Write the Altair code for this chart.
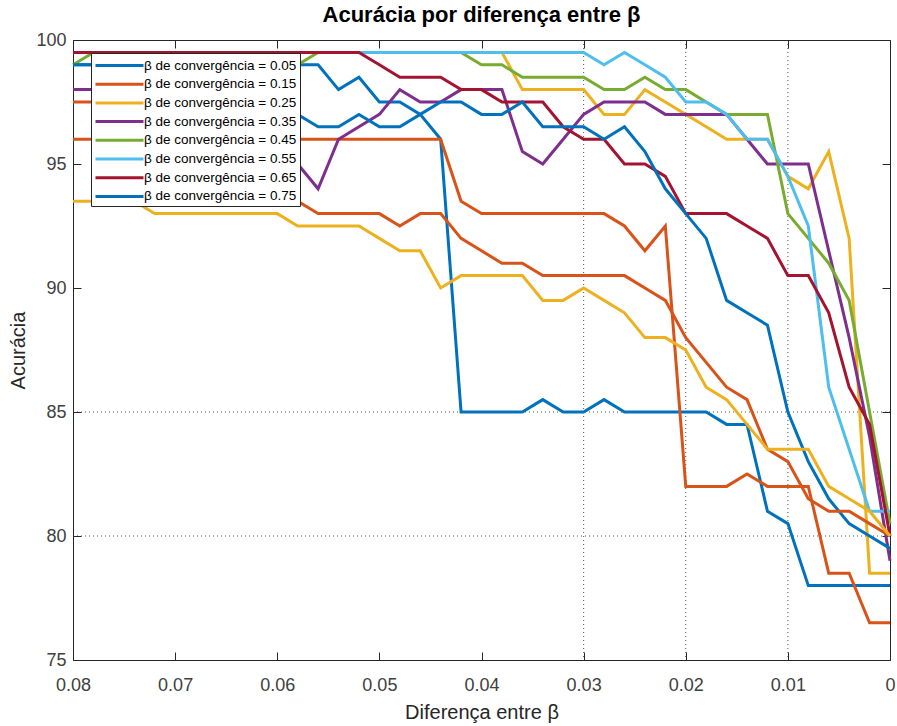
import altair as alt
import pandas as pd

# x positions (Diferença entre beta)
x_vals = [0.080, 0.078, 0.076, 0.074, 0.072, 0.070, 0.068, 0.066, 0.064, 0.062,
          0.060, 0.058, 0.056, 0.054, 0.052, 0.050, 0.048, 0.046, 0.044, 0.042,
          0.040, 0.038, 0.036, 0.034, 0.032, 0.030, 0.028, 0.026, 0.024, 0.022,
          0.020, 0.018, 0.016, 0.014, 0.012, 0.010, 0.008, 0.006, 0.004, 0.002,
          0.000]

names = ["β de convergência = 0.05", "β de convergência = 0.15",
         "β de convergência = 0.25", "β de convergência = 0.35",
         "β de convergência = 0.45", "β de convergência = 0.55",
         "β de convergência = 0.65", "β de convergência = 0.75",
         "β de convergência = 0.85", "β de convergência = 0.95"]

colors = ["#0072BD", "#D95319", "#EDB120", "#7E2F8E", "#77AC30",
          "#4DBEEE", "#A2142F", "#0072BD", "#D95319", "#EDB120"]

s005 = [99, 99, 99, 99, 99, 99, 99, 99, 99, 99, 99, 99, 99, 98, 98.5, 97.5, 97.5, 97, 96,
        85, 85, 85, 85, 85.5, 85, 85, 85.5, 85, 85, 85, 85, 85, 84.5, 84.5, 81, 80.5,
        78, 78, 78, 78, 78]
s015 = [96, 96, 96, 96, 96, 96, 96, 96, 96, 96, 96, 96, 96, 96, 96, 96, 96, 96, 96,
        93.5, 93, 93, 93, 93, 93, 93, 93, 92.5, 91.5, 92.5, 82, 82, 82, 82.5, 82, 82,
        82, 78.5, 78.5, 76.5, 76.5]
s025 = [99.5, 99.5, 99.5, 99.5, 99.5, 99.5, 99.5, 99.5, 99.5, 99.5, 99.5, 99.5, 99.5,
        99.5, 99.5, 99.5, 99.5, 99.5, 99.5, 99.5, 99.5, 99.5, 98, 98, 98, 98, 97, 97,
        98, 97.5, 97, 96.5, 96, 96, 96, 94.5, 94, 95.5, 92, 78.5, 78.5]
s035 = [98, 98, 98, 98, 98, 97.5, 97.5, 97, 96.5, 96, 95.5, 95, 94, 96, 96.5, 97, 98,
        97.5, 97.5, 98, 98, 98, 95.5, 95, 96, 97, 97.5, 97.5, 97.5, 97, 97, 97, 97,
        96, 95, 95, 95, 91.5, 88, 84, 79]
s045 = [99, 99.5, 99.5, 99.5, 99.5, 99.5, 99.5, 99.5, 99.5, 99.5, 99.5, 99, 99.5, 99.5,
        99.5, 99.5, 99.5, 99.5, 99.5, 99.5, 99, 99, 98.5, 98.5, 98.5, 98.5, 98, 98,
        98.5, 98, 98, 97.5, 97, 97, 97, 93, 92, 91, 89.5, 85, 80.5]
s055 = [99.5, 99.5, 99.5, 99.5, 99.5, 99.5, 99.5, 99.5, 99.5, 99.5, 99.5, 99.5, 99.5,
        99.5, 99.5, 99.5, 99.5, 99.5, 99.5, 99.5, 99.5, 99.5, 99.5, 99.5, 99.5, 99.5,
        99, 99.5, 99, 98.5, 97.5, 97.5, 97, 96, 96, 94.5, 92.5, 86, 83.5, 81, 81]
s065 = [99.5, 99.5, 99.5, 99.5, 99.5, 99.5, 99.5, 99.5, 99.5, 99.5, 99.5, 99.5, 99.5,
        99.5, 99.5, 99, 98.5, 98.5, 98.5, 98, 98, 97.5, 97.5, 97.5, 96.5, 96, 96, 95,
        95, 94.5, 93, 93, 93, 92.5, 92, 90.5, 90.5, 89, 86, 84.5, 80]
s075 = [99, 99, 99, 98.5, 98.5, 98, 98, 97.5, 97.5, 97.5, 97, 97, 96.5, 96.5, 97, 96.5,
        96.5, 97, 97.5, 97.5, 97, 97, 97.5, 96.5, 96.5, 96.5, 96, 96.5, 95.5, 94, 93,
        92, 89.5, 89, 88.5, 85, 83, 81.5, 80.5, 80, 79.5]
s085 = [97.5, 97.5, 97, 97, 96.5, 96, 95.5, 95, 94.5, 94, 93.5, 93.5, 93, 93, 93, 93,
        92.5, 93, 93, 92, 91.5, 91, 91, 90.5, 90.5, 90.5, 90.5, 90.5, 90, 89.5, 88, 87,
        86, 85.5, 83.5, 83, 81.5, 81, 81, 80.5, 80]
s095 = [93.5, 93.5, 93.5, 93.5, 93, 93, 93, 93, 93, 93, 93, 92.5, 92.5, 92.5, 92.5, 92,
        91.5, 91.5, 90, 90.5, 90.5, 90.5, 90.5, 89.5, 89.5, 90, 89.5, 89, 88, 88, 87.5,
        86, 85.5, 84.5, 83.5, 83.5, 83.5, 82, 81.5, 81, 80]

series = [s005, s015, s025, s035, s045, s055, s065, s075, s085, s095]

x_ticks = [0.0, 0.01, 0.02, 0.03, 0.04, 0.05, 0.06, 0.07, 0.08]
y_ticks = [75, 80, 85, 90, 95, 100]
grid_x = [0.01, 0.02, 0.03]
grid_y = [80, 85]

rows = []
for name, vals in zip(names, series):
    for xv, yv in zip(x_vals, vals):
        rows.append({"x": xv, "y": yv, "series": name})
df = pd.DataFrame(rows)

FONT = "Liberation Sans"
INK = "#262626"
LABEL_INK = "#404040"

xscale = alt.Scale(domain=[0, 0.08], reverse=True, nice=False, zero=False)
yscale = alt.Scale(domain=[75, 100], nice=False, zero=False)

axis_style = dict(labelFont=FONT, labelFontSize=18, labelColor=LABEL_INK,
                  tickColor=INK, tickWidth=1, titleFont=FONT, titleFontSize=20,
                  titleColor=INK, titleFontWeight="normal")

lines = alt.Chart(df).mark_line(strokeWidth=3).encode(
    x=alt.X("x:Q", scale=xscale,
            axis=alt.Axis(orient="bottom", values=x_ticks, offset=-8, tickSize=8,
                          domain=False, grid=False, labelFlush=False,
                          labelExpr="datum.value == 0 ? '0' : format(datum.value, '.2f')",
                          labelPadding=16, title="Diferença entre β", titlePadding=8,
                          **axis_style)),
    y=alt.Y("y:Q", scale=yscale,
            axis=alt.Axis(orient="left", values=y_ticks, offset=-8, tickSize=8,
                          domain=False, grid=False, labelFlush=False,
                          labelPadding=7, title="Acurácia", titlePadding=7,
                          **axis_style)),
    color=alt.Color("series:N", scale=alt.Scale(domain=names, range=colors),
                    legend=alt.Legend(values=names[:8], title=None, orient="none",
                                      legendX=18, legendY=13, direction="vertical",
                                      strokeColor=INK, fillColor="white", padding=3,
                                      cornerRadius=0, symbolType="M-3,0H3",
                                      symbolSize=256, symbolStrokeWidth=3,
                                      symbolOffset=16, labelOffset=15, rowPadding=2.7,
                                      labelFont=FONT, labelFontSize=13.5,
                                      labelColor="black", labelLimit=300)),
)

vgrid = alt.Chart(pd.DataFrame({"x": grid_x})).mark_rule(
    color=INK, strokeWidth=1, strokeDash=[1, 3], opacity=0.8
).encode(
    x=alt.X("x:Q", scale=xscale,
            axis=alt.Axis(orient="top", values=x_ticks, offset=-8, tickSize=8,
                          domain=False, grid=False, labels=False, title=None,
                          tickColor=INK, tickWidth=1))
)

hgrid = alt.Chart(pd.DataFrame({"y": grid_y})).mark_rule(
    color=INK, strokeWidth=1, strokeDash=[1, 3], opacity=0.8
).encode(
    y=alt.Y("y:Q", scale=yscale,
            axis=alt.Axis(orient="right", values=y_ticks, offset=-8, tickSize=8,
                          domain=False, grid=False, labels=False, title=None,
                          tickColor=INK, tickWidth=1))
)

chart = alt.layer(vgrid, hgrid, lines).resolve_axis(
    x="independent", y="independent"
).properties(
    width=817, height=620,
    padding={"left": 73, "top": 40, "right": 7, "bottom": 66},
    autosize=alt.AutoSizeParams(type="none"),
    background="white",
    title=alt.TitleParams("Acurácia por diferença entre β", font=FONT, fontSize=22,
                          fontWeight="bold", color="black", anchor="middle", offset=4),
).configure_view(
    stroke=INK, strokeWidth=1, fill="white"
)

chart.save("out.html", embed_options={"renderer": "svg", "actions": False})
